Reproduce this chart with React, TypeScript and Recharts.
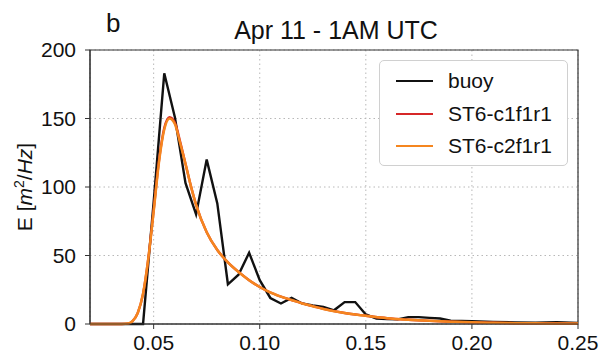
import {
  CartesianGrid,
  Line,
  LineChart,
  ReferenceArea,
  XAxis,
  YAxis,
} from 'recharts';

// buoy spectrum (frequency in Hz, energy in m^2/Hz)
const buoyFreq = [
  0.02, 0.025, 0.03, 0.035, 0.04, 0.045, 0.05, 0.055, 0.06, 0.065, 0.07, 0.075,
  0.08, 0.085, 0.09, 0.095, 0.1, 0.105, 0.11, 0.115, 0.12, 0.125, 0.13, 0.135,
  0.14, 0.145, 0.15, 0.155, 0.16, 0.165, 0.17, 0.175, 0.18, 0.185, 0.19, 0.195,
  0.2, 0.21, 0.22, 0.23, 0.24, 0.25,
];
const buoyE = [
  0, 0, 0, 0, 0, 0, 89, 183, 151, 103, 80, 120, 88, 29, 36, 52, 32, 19, 15, 19,
  15, 13.5, 12.5, 10, 16, 16, 7, 4, 3.6, 3.4, 5, 5, 4.5, 4, 2.5, 2.2, 2, 1.5,
  1.2, 1, 1.3, 0.8,
];

// model runs share one frequency grid
const modelFreq = [
  0.02, 0.03, 0.035, 0.038, 0.04, 0.0425, 0.045, 0.0475, 0.05, 0.0525, 0.055,
  0.0575, 0.06, 0.0625, 0.065, 0.0675, 0.07, 0.075, 0.08, 0.085, 0.09, 0.095,
  0.1, 0.105, 0.11, 0.115, 0.12, 0.125, 0.13, 0.14, 0.15, 0.16, 0.17, 0.18,
  0.19, 0.2, 0.21, 0.22, 0.23, 0.24, 0.25,
];
const c1f1r1E = [
  0, 0, 0, 0.3, 2, 8, 22, 48, 83, 119, 143, 151, 147, 133, 117, 101, 87, 67,
  54, 45, 38, 32, 27, 23, 20, 17.5, 15, 13, 11, 8, 6, 4.2, 3.1, 2.3, 1.7, 1.2,
  0.9, 0.6, 0.5, 0.4, 0.3,
];
const c2f1r1E = [
  0, 0, 0, 0.3, 2, 8, 22, 48, 82, 118, 142, 150, 146, 132, 117, 101, 87, 67,
  54, 45, 38, 32, 27, 23, 20, 17.5, 15, 13, 11, 8, 6, 4.2, 3.1, 2.3, 1.7, 1.2,
  0.9, 0.6, 0.5, 0.4, 0.3,
];

const xTicks = [0.05, 0.1, 0.15, 0.2, 0.25];
const yTicks = [0, 50, 100, 150, 200];

const buoy = buoyFreq.map((f, i) => ({ f, e: buoyE[i] }));
const c1 = modelFreq.map((f, i) => ({ f, e: c1f1r1E[i] }));
const c2 = modelFreq.map((f, i) => ({ f, e: c2f1r1E[i] }));

const FONT = '"Liberation Sans", Arial, Helvetica, sans-serif';

const series = [
  { name: 'buoy', color: '#111111' },
  { name: 'ST6-c1f1r1', color: '#d62728' },
  { name: 'ST6-c2f1r1', color: '#f5861f' },
];

function LegendBox() {
  return (
    <div
      style={{
        position: 'absolute',
        left: 379,
        top: 60,
        width: 189,
        height: 106,
        border: '1px solid #d0d0d0',
        borderRadius: 5,
        background: '#fff',
        padding: '4px 0',
        boxSizing: 'border-box',
        fontFamily: FONT,
        fontSize: 21,
        color: '#111',
      }}
    >
      {series.map((s) => (
        <div
          key={s.name}
          style={{ display: 'flex', alignItems: 'center', height: 32.5 }}
        >
          <div
            style={{
              width: 37,
              height: 2.4,
              background: s.color,
              marginLeft: 16,
              marginRight: 15,
            }}
          />
          <span>{s.name}</span>
        </div>
      ))}
    </div>
  );
}

export default function App() {
  return (
    <div
      style={{
        position: 'absolute',
        left: 0,
        top: 0,
        width: 602,
        height: 355,
        background: '#fff',
        fontFamily: FONT,
      }}
    >
      <LineChart
        width={602}
        height={355}
        margin={{ top: 50, right: 24, bottom: 0, left: 0 }}
      >
        <CartesianGrid stroke="#b8b8b8" strokeDasharray="1.5 3" />
        <XAxis
          dataKey="f"
          type="number"
          domain={[0.02, 0.25]}
          ticks={xTicks}
          allowDataOverflow
          tickFormatter={(v: number) => v.toFixed(2)}
          height={31}
          tickSize={5}
          tickMargin={6}
          stroke="#333"
          tick={{ fill: '#111', fontSize: 21, fontFamily: FONT }}
        />
        <YAxis
          type="number"
          domain={[0, 200]}
          ticks={yTicks}
          width={90}
          tickSize={5}
          tickMargin={9}
          stroke="#333"
          tick={{ fill: '#111', fontSize: 21, fontFamily: FONT }}
        />
        <Line
          data={buoy}
          dataKey="e"
          name="buoy"
          type="linear"
          stroke={series[0].color}
          strokeWidth={2.4}
          dot={false}
          isAnimationActive={false}
        />
        <Line
          data={c1}
          dataKey="e"
          name="ST6-c1f1r1"
          type="monotone"
          stroke={series[1].color}
          strokeWidth={2.4}
          dot={false}
          isAnimationActive={false}
        />
        <Line
          data={c2}
          dataKey="e"
          name="ST6-c2f1r1"
          type="monotone"
          stroke={series[2].color}
          strokeWidth={2.5}
          dot={false}
          isAnimationActive={false}
        />
        <ReferenceArea
          x1={0.02}
          x2={0.25}
          y1={0}
          y2={200}
          fill="none"
          stroke="#333"
          strokeWidth={1.2}
          fillOpacity={0}
        />
      </LineChart>
      <LegendBox />
      <svg
        width={602}
        height={355}
        style={{ position: 'absolute', left: 0, top: 0, pointerEvents: 'none' }}
      >
        <text x={106} y={32} fontSize={26} fill="#111" fontFamily={FONT}>
          b
        </text>
        <text
          x={336}
          y={39}
          fontSize={25}
          fill="#111"
          fontFamily={FONT}
          textAnchor="middle"
        >
          Apr 11 - 1AM UTC
        </text>
        <text
          transform="rotate(-90)"
          x={-187}
          y={32}
          fontSize={21}
          fill="#111"
          fontFamily={FONT}
          textAnchor="middle"
        >
          E [<tspan fontStyle="italic">m</tspan>
          <tspan dy={-8} fontSize={14}>
            2
          </tspan>
          <tspan dy={8}>/</tspan>
          <tspan fontStyle="italic">Hz</tspan>]
        </text>
      </svg>
    </div>
  );
}
